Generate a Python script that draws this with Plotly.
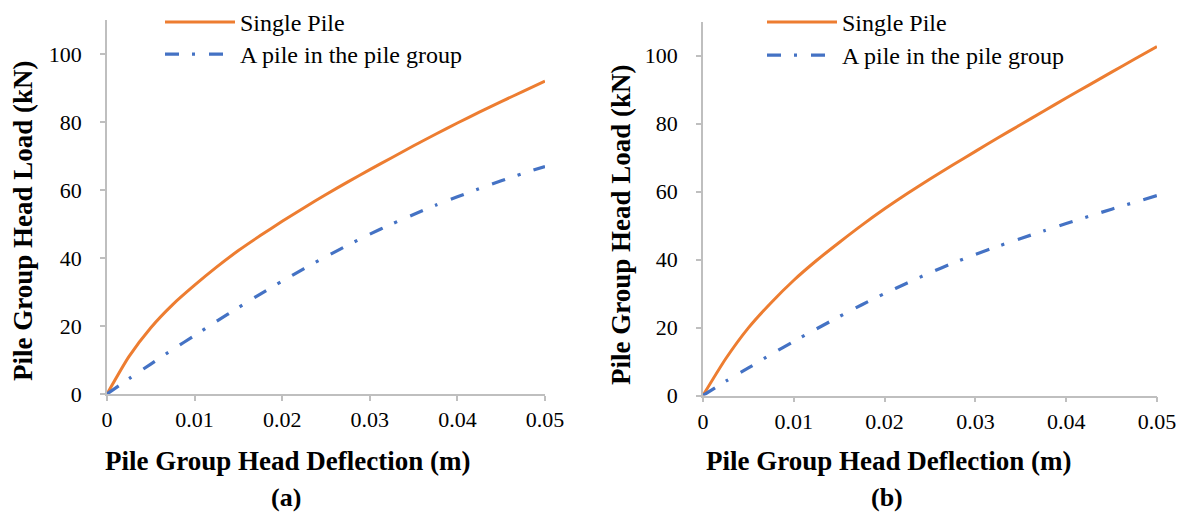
import plotly.graph_objects as go

# ---- data ----
deflection = [0, 0.0025, 0.005, 0.0075, 0.01, 0.0125, 0.015, 0.0175, 0.02, 0.0225, 0.025,
              0.0275, 0.03, 0.0325, 0.035, 0.0375, 0.04, 0.0425, 0.045, 0.0475, 0.05]

a_single = [0, 11, 19.5, 26.3, 32, 37.3, 42.2, 46.6, 50.8, 54.8, 58.7,
            62.4, 66, 69.5, 73, 76.4, 79.7, 82.9, 86, 89, 92]
a_group = [0, 4.5, 8.8, 13.1, 17.2, 21.4, 25.4, 29.4, 33.2, 36.9, 40.4,
           43.8, 47.0, 50.0, 52.8, 55.5, 58.0, 60.4, 62.7, 64.9, 66.9]

b_single = [0, 10.8, 19.9, 27.3, 33.9, 39.7, 45, 50.1, 54.9, 59.4, 63.7,
            67.8, 71.8, 75.8, 79.7, 83.6, 87.5, 91.3, 95.1, 98.9, 102.6]
b_group = [0, 4.2, 8.1, 12.1, 15.9, 19.6, 23.2, 26.7, 30, 33.1, 36.1,
           38.9, 41.5, 43.9, 46.2, 48.4, 50.6, 52.7, 54.8, 56.8, 58.8]

series_names = ["Single Pile", "A pile in the pile group"]
panel_labels = ["(a)", "(b)"]
x_title = "Pile Group Head Deflection (m)"
y_title = "Pile Group Head Load (kN)"

ORANGE = "#ED7D31"
BLUE = "#4472C4"
FONT = "Times New Roman, Liberation Serif, serif"

W, H = 1183, 513
px2x = lambda px: px / W
px2y = lambda py: 1 - py / H

fig = go.Figure()

legend_ids = [("legend", "legend2"), ("legend3", "legend4")]
for i, (single, group) in enumerate([(a_single, a_group), (b_single, b_group)]):
    xa = "x" if i == 0 else "x2"
    ya = "y" if i == 0 else "y2"
    fig.add_trace(go.Scatter(x=deflection, y=single, mode="lines", name=series_names[0],
                             line=dict(color=ORANGE, width=3, shape="spline", smoothing=0.6),
                             xaxis=xa, yaxis=ya, legend=legend_ids[i][0]))
    fig.add_trace(go.Scatter(x=deflection, y=group, mode="lines", name=series_names[1],
                             line=dict(color=BLUE, width=3.2, dash="14px,13px,3px,14px",
                                       shape="spline", smoothing=0.6),
                             xaxis=xa, yaxis=ya, legend=legend_ids[i][1]))

axis_common = dict(showline=True, linecolor="#BFBFBF", linewidth=1.5, showgrid=False,
                   zeroline=False, ticks="outside", ticklen=5, tickcolor="#BFBFBF",
                   tickwidth=1.5, tickfont=dict(family=FONT, size=22, color="black"),
                   automargin=False)


def legend_at(px_left, py_top):
    return dict(x=px2x(px_left), y=px2y(py_top), xanchor="left", yanchor="top",
                font=dict(family=FONT, size=24, color="black"), itemwidth=70,
                bgcolor="rgba(0,0,0,0)")


fig.update_layout(
    width=W, height=H,
    margin=dict(l=0, r=0, t=0, b=0),
    paper_bgcolor="white", plot_bgcolor="white",
    xaxis=dict(domain=[px2x(107), px2x(545)], range=[0, 0.05], dtick=0.01, anchor="y",
               ticklabelstandoff=0, **axis_common),
    yaxis=dict(domain=[px2y(394), px2y(20)], range=[0, 110], dtick=20, anchor="x",
               ticklabelstandoff=14, **axis_common),
    xaxis2=dict(domain=[px2x(703), px2x(1157)], range=[0, 0.05], dtick=0.01, anchor="y2",
                ticklabelstandoff=0, **axis_common),
    yaxis2=dict(domain=[px2y(395.5), px2y(21.5)], range=[0, 110], dtick=20, anchor="x2",
                ticklabelstandoff=14, **axis_common),
    legend=legend_at(160, 0),
    legend2=legend_at(160, 32),
    legend3=legend_at(762, 0),
    legend4=legend_at(762, 33),
    showlegend=True,
)

annos = []
title_font = dict(family=FONT, size=27, color="black")
for cx in (287, 888):
    annos.append(dict(text="<b>" + x_title + "</b>", x=px2x(cx), y=px2y(461), xref="paper",
                      yref="paper", showarrow=False, font=title_font,
                      xanchor="center", yanchor="middle"))
for cx, cy in ((23, 221), (621, 225)):
    annos.append(dict(text="<b>" + y_title + "</b>", x=px2x(cx), y=px2y(cy), xref="paper",
                      yref="paper", showarrow=False, font=title_font, textangle=-90,
                      xanchor="center", yanchor="middle"))
for cx, lab in ((286, panel_labels[0]), (887, panel_labels[1])):
    annos.append(dict(text="<b>" + lab + "</b>", x=px2x(cx), y=px2y(497), xref="paper",
                      yref="paper", showarrow=False,
                      font=dict(family=FONT, size=26, color="black"),
                      xanchor="center", yanchor="middle"))
fig.update_layout(annotations=annos)

# remove the browser's default 8px body margin so the figure fills the window
fig.write_html("out.html", config={"displayModeBar": False},
               post_script="document.body.style.margin='0';document.body.style.overflow='hidden';")
